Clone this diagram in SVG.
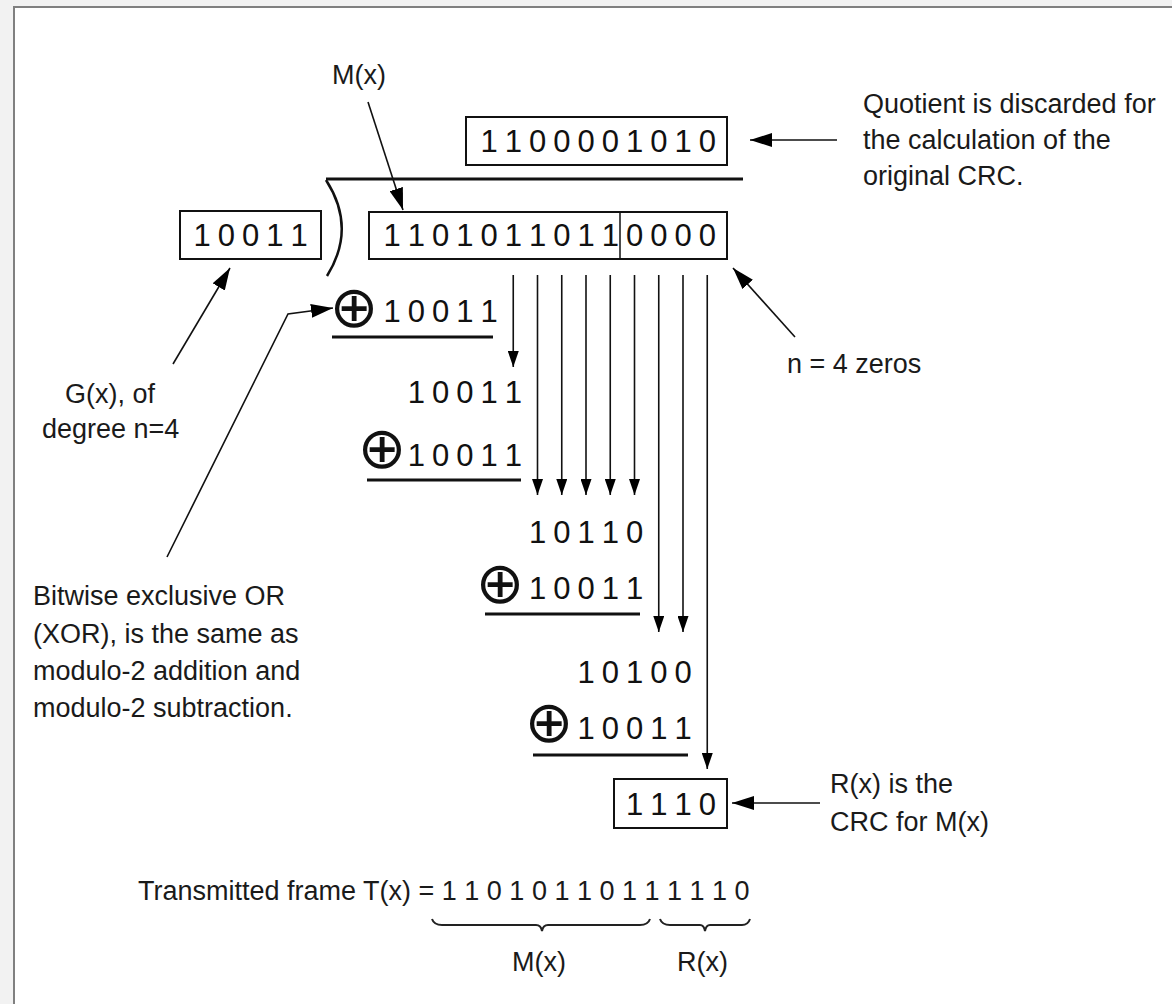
<svg xmlns="http://www.w3.org/2000/svg" width="1172" height="1004" viewBox="0 0 1172 1004">
  <defs>
    <marker id="headS" markerUnits="userSpaceOnUse" markerWidth="16" markerHeight="11" refX="16" refY="5.5" orient="auto">
      <path d="M0,0 L16,5.5 L0,11 z" fill="#000"/>
    </marker>
    <marker id="headL" markerUnits="userSpaceOnUse" markerWidth="22" markerHeight="14" refX="22" refY="7" orient="auto">
      <path d="M0,0 L22,7 L0,14 z" fill="#000"/>
    </marker>
    <style>
      .lbl { font-family: "Liberation Sans", Arial, sans-serif; font-size: 27px; fill: #1a1a1a; }
      .dig { font-family: "Liberation Sans", Arial, sans-serif; font-size: 31px; fill: #111; text-anchor: middle; }
      .xor { font-family: "DejaVu Sans", sans-serif; font-size: 58px; fill: #111; text-anchor: middle; }
      .box { fill: none; stroke: #111; stroke-width: 2; }
      .rule { stroke: #111; stroke-width: 3; fill: none; }
      .conS { stroke: #111; stroke-width: 1.6; fill: none; marker-end: url(#headS); }
      .conL { stroke: #111; stroke-width: 1.6; fill: none; marker-end: url(#headL); }
      .brace { stroke: #222; stroke-width: 2; fill: none; }
    </style>
  </defs>

  <!-- background / frame -->
  <rect x="0" y="0" width="1172" height="1004" fill="#f2f2f2"/>
  <rect x="14" y="7" width="1160" height="1000" fill="#ffffff"/>
  <path d="M14,1004 L14,7 L1172,7" fill="none" stroke="#808080" stroke-width="2"/>

  <!-- division bracket -->
  <g id="division-bar">
    <path class="rule" d="M326,179 L743,179"/>
    <path d="M326,180 Q357,228 327,276" fill="none" stroke="#111" stroke-width="2.5"/>
  </g>

  <g id="quotient">
    <rect class="box" x="466" y="117" width="261" height="48"/>
    <text class="dig" x="489 513.25 537.5 561.75 586 610.25 634.5 658.75 683 707.25" y="152">1100001010</text>
  </g>

  <g id="divisor">
    <rect class="box" x="180" y="211" width="141" height="48"/>
    <text class="dig" x="202 226.25 250.5 274.75 299" y="246">10011</text>
  </g>

  <g id="dividend">
    <rect class="box" x="369" y="212" width="358" height="47"/>
    <line x1="620" y1="212" x2="620" y2="259" stroke="#111" stroke-width="1.5"/>
    <text class="dig" x="392 416.25 440.5 464.75 489 513.25 537.5 561.75 586 610.25 634.5 658.75 683 707.25" y="246">11010110110000</text>
  </g>

  <g id="row1">
    <text class="xor" x="354" y="327">⊕</text>
    <text class="dig" x="392 416.25 440.5 464.75 489" y="322">10011</text>
    <path class="rule" d="M332,337 L493,337"/>
  </g>
  <g id="row2">
    <text class="dig" x="416.25 440.5 464.75 489 513.25" y="403">10011</text>
  </g>
  <g id="row3">
    <text class="xor" x="382" y="468">⊕</text>
    <text class="dig" x="416.25 440.5 464.75 489 513.25" y="466">10011</text>
    <path class="rule" d="M367,480 L521,480"/>
  </g>
  <g id="row4">
    <text class="dig" x="537.5 561.75 586 610.25 634.5" y="543">10110</text>
  </g>
  <g id="row5">
    <text class="xor" x="500" y="603">⊕</text>
    <text class="dig" x="537.5 561.75 586 610.25 634.5" y="599">10011</text>
    <path class="rule" d="M485,614 L640,614"/>
  </g>
  <g id="row6">
    <text class="dig" x="586 610.25 634.5 658.75 683" y="683">10100</text>
  </g>
  <g id="row7">
    <text class="xor" x="549" y="742">⊕</text>
    <text class="dig" x="586 610.25 634.5 658.75 683" y="739">10011</text>
    <path class="rule" d="M533,755 L688,755"/>
  </g>

  <g id="remainder">
    <rect class="box" x="614" y="779" width="113" height="49"/>
    <text class="dig" x="634.5 658.75 683 707.25" y="815">1110</text>
  </g>

  <!-- annotation labels -->
  <g id="label-mx">
    <text class="lbl" x="332" y="84">M(x)</text>
  </g>
  <g id="label-quotient">
    <text class="lbl" x="863" y="113">Quotient is discarded for</text>
    <text class="lbl" x="863" y="149">the calculation of the</text>
    <text class="lbl" x="863" y="185">original CRC.</text>
  </g>
  <g id="label-zeros">
    <text class="lbl" x="787" y="373">n = 4 zeros</text>
  </g>
  <g id="label-gx">
    <text class="lbl" x="65" y="403">G(x), of</text>
    <text class="lbl" x="42" y="438">degree n=4</text>
  </g>
  <g id="label-xor">
    <text class="lbl" x="33" y="605">Bitwise exclusive OR</text>
    <text class="lbl" x="33" y="643">(XOR), is the same as</text>
    <text class="lbl" x="33" y="680">modulo-2 addition and</text>
    <text class="lbl" x="33" y="717">modulo-2 subtraction.</text>
  </g>
  <g id="label-rx">
    <text class="lbl" x="830" y="793">R(x) is the</text>
    <text class="lbl" x="830" y="831">CRC for M(x)</text>
  </g>
  <g id="transmitted">
    <text class="lbl" x="138" y="900">Transmitted frame T(x) = 1 1 0 1 0 1 1 0 1 1 1 1 1 0</text>
    <path class="brace" d="M432,919 Q434,925 442,925 L536,925 Q541,925 542,931 Q543,925 548,925 L640,925 Q648,925 650,919"/>
    <path class="brace" d="M660,919 Q662,925 670,925 L700,925 Q704,925 705,931 Q706,925 710,925 L742,925 Q748,925 750,919"/>
    <text class="lbl" x="512" y="971">M(x)</text>
    <text class="lbl" x="677" y="971">R(x)</text>
  </g>

  <!-- connectors -->
  <g id="connectors">
    <line class="conS" x1="513.25" y1="275" x2="513.25" y2="367"/>
    <line class="conS" x1="537.5" y1="275" x2="537.5" y2="495"/>
    <line class="conS" x1="561.75" y1="275" x2="561.75" y2="495"/>
    <line class="conS" x1="586" y1="275" x2="586" y2="495"/>
    <line class="conS" x1="610.25" y1="275" x2="610.25" y2="495"/>
    <line class="conS" x1="634.5" y1="275" x2="634.5" y2="495"/>
    <line class="conS" x1="658.75" y1="275" x2="658.75" y2="632"/>
    <line class="conS" x1="683" y1="275" x2="683" y2="632"/>
    <line class="conS" x1="707.25" y1="275" x2="707.25" y2="769"/>

    <line class="conL" x1="368" y1="102" x2="403" y2="210"/>
    <line class="conL" x1="837" y1="140" x2="750" y2="140"/>
    <line class="conL" x1="795" y1="337" x2="733" y2="268"/>
    <line class="conL" x1="173" y1="364" x2="230" y2="268"/>
    <polyline class="conL" points="167,557 288,314 333,308"/>
    <line class="conL" x1="820" y1="803" x2="732" y2="803"/>
  </g>
</svg>
